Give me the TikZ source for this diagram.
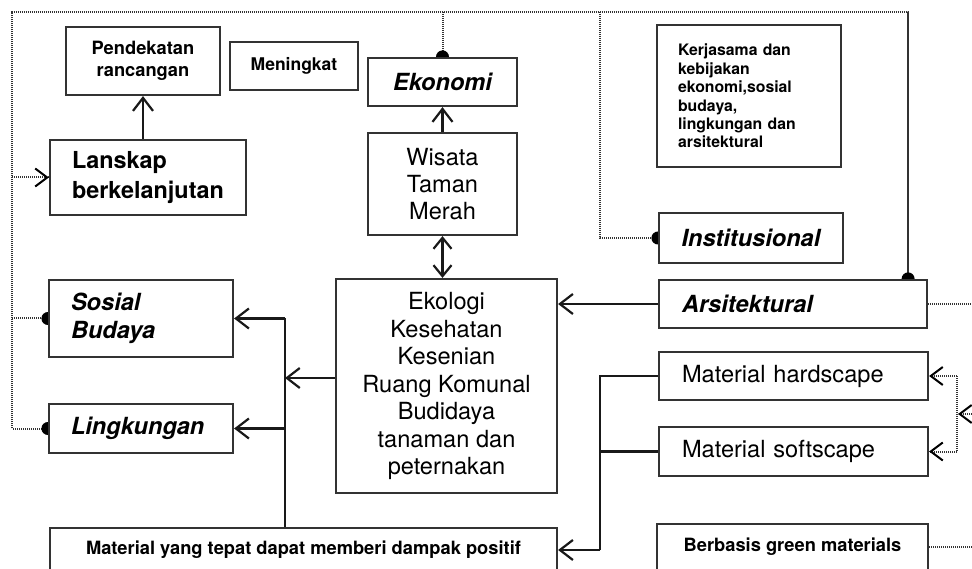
\documentclass[tikz,border=0pt]{standalone}
\usepackage{fontspec}
\setmainfont{TeX Gyre Heros}
\usetikzlibrary{arrows.meta,calc}
\pgfdeclarelayer{bg}
\pgfsetlayers{bg,main}
\newcommand\fBig{\fontsize{23.6}{27.5}\selectfont}
\newcommand\fMid{\fontsize{18.3}{22}\selectfont}
\newcommand\fSml{\fontsize{15.8}{18.4}\selectfont}
\tikzset{
  box/.style={draw=black!80, line width=2.2pt, fill=white, inner sep=0pt, align=center, text=black},
  lbox/.style={box, align=left},
  dotl/.style={draw=black!80, line width=2pt, dash pattern=on 1.1pt off 0.9pt},
  sol/.style={draw=black!90, line width=2.2pt},
  tipv/.style={-{Straight Barb[length=13pt,width=20pt,line width=2.2pt]}},
  tipvv/.style={{Straight Barb[length=11pt,width=18pt,line width=2.2pt]}-{Straight Barb[length=11pt,width=18pt,line width=2.2pt]}},
  dtip/.style={draw=black, line width=2pt, -{Straight Barb[length=12pt,width=18pt,line width=2pt]}},
  ball/.style={fill=black}
}
\begin{document}
\begin{tikzpicture}[x=1pt,y=-1pt]
\useasboundingbox (0,0) rectangle (972,569);
\begin{pgfonlayer}{bg}
  \fill[white] (0,0) rectangle (972,569);
\end{pgfonlayer}

% nodes
\node[box, minimum width=154pt, minimum height=68pt, font=\fMid\bfseries] (pend) at (143,61) {Pendekatan\\rancangan};
\node[box, minimum width=128pt, minimum height=48pt, font=\fontsize{17.5}{21}\selectfont\bfseries] (men) at (294,66) {Meningkat};
\node[box, minimum width=149pt, minimum height=48pt, font=\fBig\bfseries\itshape] (eko) at (442.5,82) {Ekonomi};
\node[box, minimum width=196pt, minimum height=75pt, align=left, font=\fontsize{23.4}{30}\selectfont\bfseries] (lans) at (148,177.5) {Lanskap\\berkelanjutan};
\node[box, minimum width=149pt, minimum height=102pt, font=\fontsize{23.6}{27}\selectfont] (wis) at (442.5,184) {Wisata\\Taman\\Merah};
\node[lbox, text width=142pt, inner xsep=21pt, minimum height=142pt, font=\fSml\bfseries] (kerja) at (749,96) {Kerjasama dan\\kebijakan\\ekonomi,sosial\\budaya,\\lingkungan dan\\arsitektural};
\node[box, minimum width=184pt, minimum height=50pt, font=\fBig\bfseries\itshape] (inst) at (751,238) {Institusional};
\node[lbox, text width=222pt, inner xsep=23pt, minimum height=48pt, font=\fBig\bfseries\itshape] (arsi) at (793,304) {Arsitektural};
\node[box, minimum width=221pt, minimum height=214pt, font=\fBig] (ekol) at (446.5,386) {Ekologi\\Kesehatan\\Kesenian\\Ruang Komunal\\Budidaya\\tanaman dan\\peternakan};
\node[lbox, text width=140pt, inner xsep=22pt, minimum height=77pt, font=\fontsize{23.6}{28}\selectfont\bfseries\itshape] (sos) at (141,318.5) {Sosial\\Budaya};
\node[lbox, text width=140pt, inner xsep=22pt, minimum height=49pt, font=\fBig\bfseries\itshape] (ling) at (141,428.5) {Lingkungan};
\node[lbox, text width=223pt, inner xsep=23pt, minimum height=48pt, font=\fBig] (hard) at (793.5,376) {Material hardscape};
\node[lbox, text width=223pt, inner xsep=23pt, minimum height=49pt, font=\fBig] (soft) at (793.5,451.5) {Material softscape};
\node[box, minimum width=507pt, minimum height=44pt, font=\fMid\bfseries] (mat) at (303.5,550) {Material yang tepat dapat memberi dampak positif};
\node[box, minimum width=271pt, minimum height=46pt, font=\fMid\bfseries] (berb) at (792.5,547) {Berbasis green materials};

% helper coordinates
\coordinate (ctl) at (12,12);
\coordinate (cinst) at (600,12);
\coordinate (arsitop) at ([xshift=-20pt]arsi.north east);
\coordinate (cedge) at (972,0);
\coordinate (chs) at (957,0);
\coordinate (cmid) at (958,414);
\coordinate (clv) at (285,0);
\coordinate (crv) at (600,0);
\coordinate (ekw) at ([yshift=8pt]ekol.west);

\begin{pgfonlayer}{bg}
  % dotted network
  \draw[dotl] (ling.west) -- (ling.west -| ctl) -- (ctl) -- (ctl -| arsitop) -- (arsitop);
  \draw[dotl] (lans.west -| ctl) -- (lans.west);
  \draw[dtip] ([xshift=-3pt]lans.west) -- (lans.west);
  \draw[dotl] (sos.west -| ctl) -- (sos.west);
  \draw[dotl] (eko.north |- ctl) -- (eko.north);
  \draw[dotl] (cinst) -- (cinst |- inst.west) -- (inst.west);
  \fill[ball] (ling.west) circle (6.5pt);
  \fill[ball] (sos.west) circle (6.5pt);
  \fill[ball] (eko.north) circle (6.5pt);
  \fill[ball] (inst.west) circle (6.5pt);
  \fill[ball] (arsitop) circle (6.5pt);
  \draw[dotl] (arsi.east) -- (arsi.east -| cedge);
  \draw[dotl] (berb.east) -- (berb.east -| cedge);
  \draw[dotl] (hard.east -| chs) -- (soft.east -| chs);
  \draw[dotl] (hard.east -| chs) -- (hard.east);
  \draw[dtip] ([xshift=3pt]hard.east) -- (hard.east);
  \draw[dotl] (soft.east -| chs) -- (soft.east);
  \draw[dtip] ([xshift=3pt]soft.east) -- (soft.east);
  \draw[dotl] (cmid -| cedge) -- (cmid);
  \draw[dtip] ([xshift=3pt]cmid) -- (cmid);
  % solid connectors
  \draw[sol, tipv] (lans.north -| pend.south) -- (pend.south);
  \draw[sol, tipv] (wis.north) -- (eko.south);
  \draw[sol, tipvv] (wis.south) -- (wis.south |- ekol.north);
  \draw[sol, tipv] (arsi.west) -- (arsi.west -| ekol.east);
  \draw[sol, tipv] (ekw) -- (ekw -| clv);
  \draw[sol] (mat.north -| clv) -- (sos.east -| clv);
  \draw[sol, tipv] (sos.east -| clv) -- (sos.east);
  \draw[sol, tipv] (ling.east -| clv) -- (ling.east);
  \draw[sol] (hard.west) -- (hard.west -| crv) -- (crv |- mat.east);
  \draw[sol] (soft.west) -- (soft.west -| crv);
  \draw[sol, tipv] (crv |- mat.east) -- (mat.east);
\end{pgfonlayer}
\end{tikzpicture}
\end{document}
